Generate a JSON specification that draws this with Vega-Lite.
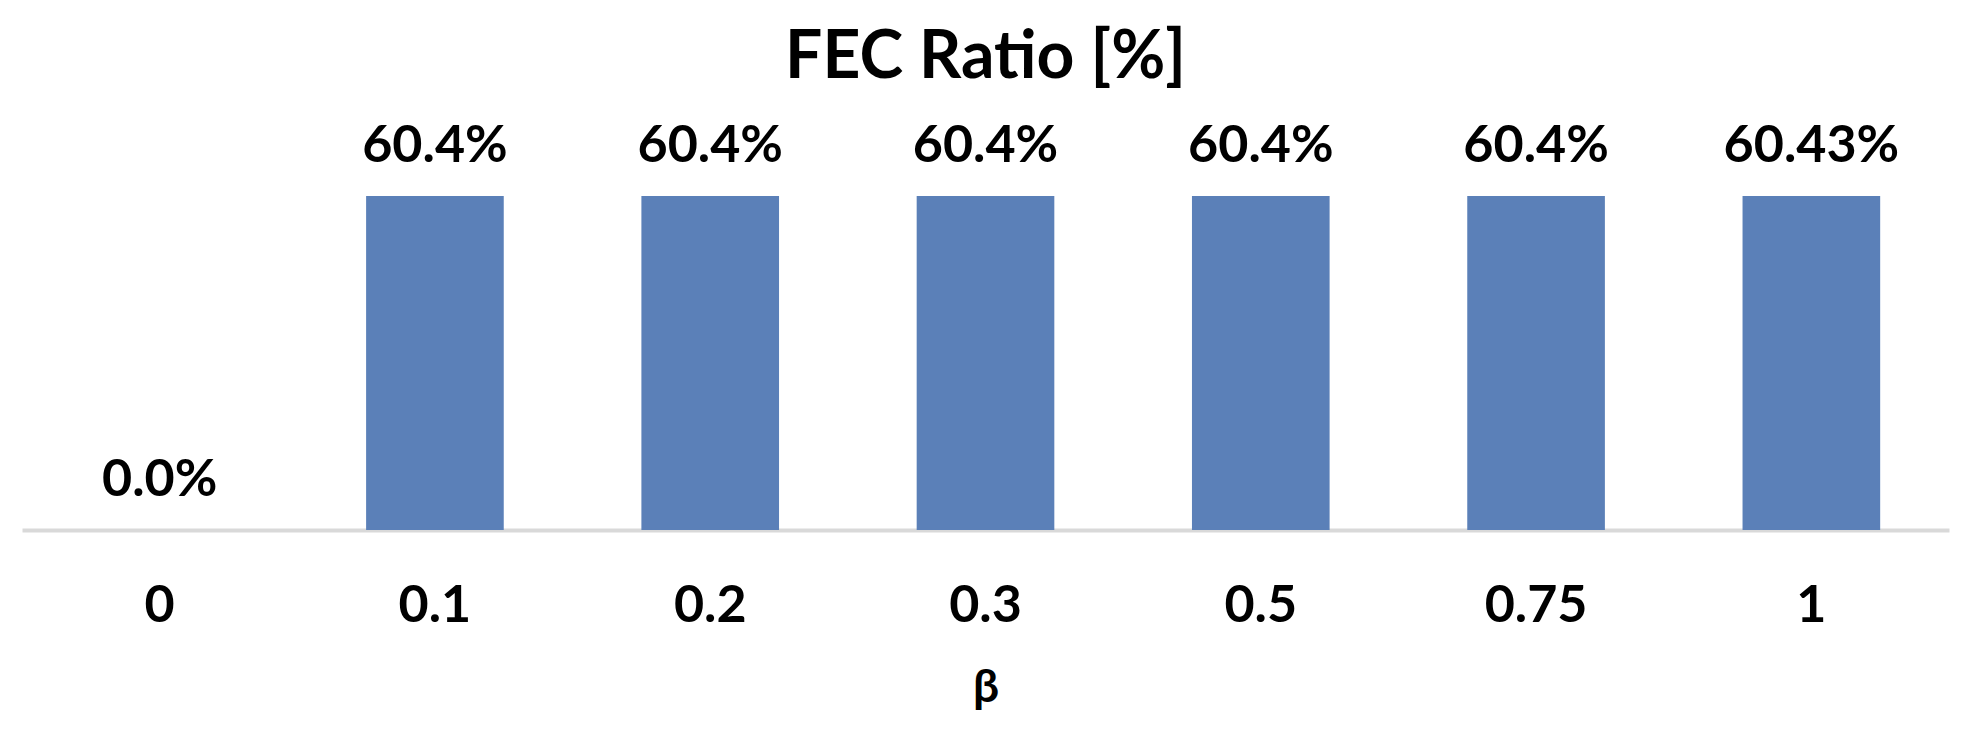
{
  "$schema": "https://vega.github.io/schema/vega-lite/v6.json",
  "autosize": "none",
  "width": 1927,
  "height": 387,
  "padding": {"left": 22, "top": 143, "right": 19, "bottom": 202},
  "background": "white",
  "config": {
    "view": {"stroke": null},
    "font": "Lato"
  },
  "title": {
    "text": "FEC Ratio [%]",
    "font": "Lato",
    "fontSize": 66,
    "fontWeight": "bold",
    "color": "#000000",
    "anchor": "middle",
    "offset": 28
  },
  "data": {
    "values": [
      {"beta": "0", "fec": 0, "label": "0.0%"},
      {"beta": "0.1", "fec": 60.4, "label": "60.4%"},
      {"beta": "0.2", "fec": 60.4, "label": "60.4%"},
      {"beta": "0.3", "fec": 60.4, "label": "60.4%"},
      {"beta": "0.5", "fec": 60.4, "label": "60.4%"},
      {"beta": "0.75", "fec": 60.4, "label": "60.4%"},
      {"beta": "1", "fec": 60.43, "label": "60.43%"}
    ]
  },
  "encoding": {
    "x": {
      "field": "beta",
      "type": "ordinal",
      "sort": null,
      "scale": {"paddingInner": 0.5, "paddingOuter": 0.25},
      "axis": {
        "title": "β",
        "titleFont": "Lato",
        "titleFontSize": 46,
        "titleFontWeight": "bold",
        "titleColor": "#000000",
        "titlePadding": 34,
        "labelFont": "Lato",
        "labelFontSize": 52,
        "labelFontWeight": "bold",
        "labelColor": "#000000",
        "labelAngle": 0,
        "labelPadding": 50,
        "ticks": false,
        "grid": false,
        "domainColor": "#d9d9d9",
        "domainWidth": 4
      }
    },
    "y": {
      "field": "fec",
      "type": "quantitative",
      "scale": {"domain": [0, 70]},
      "axis": null
    }
  },
  "layer": [
    {
      "mark": {"type": "bar", "color": "#5b80b8"}
    },
    {
      "mark": {
        "type": "text",
        "baseline": "alphabetic",
        "dy": -34,
        "font": "Lato",
        "fontSize": 52,
        "fontWeight": "bold",
        "color": "#000000"
      },
      "encoding": {"text": {"field": "label"}}
    }
  ]
}
